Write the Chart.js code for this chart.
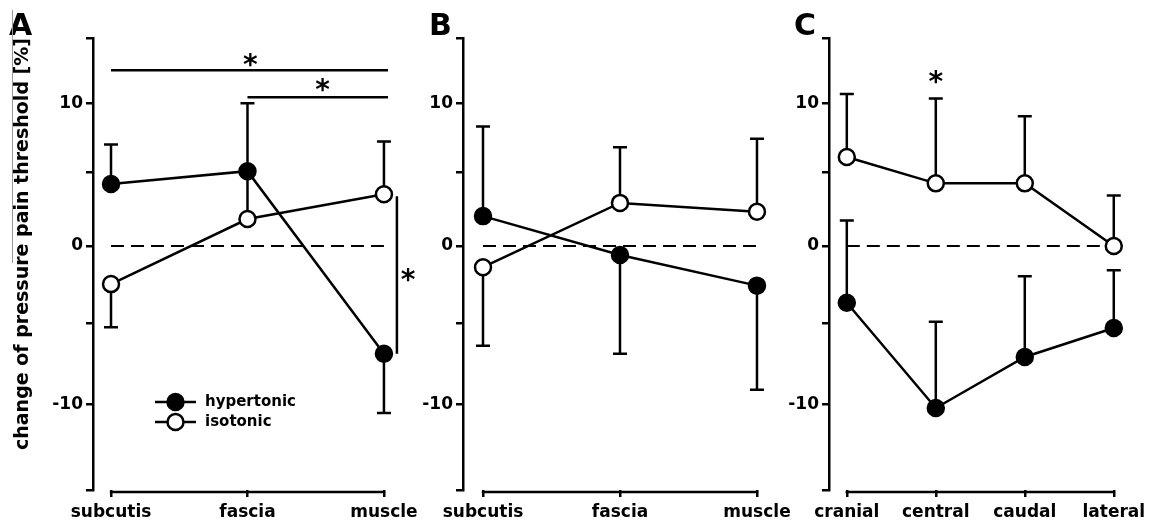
<!DOCTYPE html>
<html>
<head>
<meta charset="utf-8">
<script src="https://cdn.jsdelivr.net/npm/chart.js@4.4.1/dist/chart.umd.min.js"></script>
<style>
body{margin:0;background:#fff;width:1151px;height:530px;position:relative;overflow:hidden}
canvas{position:absolute;left:0;top:0}
</style>
</head>
<body>
<canvas id="cA" width="1151" height="530"></canvas>
<canvas id="cB" width="1151" height="530"></canvas>
<canvas id="cC" width="1151" height="530"></canvas>
<script>
var catsAB = ['subcutis', 'fascia', 'muscle']
var catsC = ['cranial', 'central', 'caudal', 'lateral']
var seriesNames = ['hypertonic', 'isotonic']
var yTickLabels = [-10, 0, 10]

// means
var hyperA = [4.2, 5.1, -6.9]
var isoA = [-2.5, 1.8, 3.5]
var hyperB = [2.0, -0.6, -2.6]
var isoB = [-1.4, 2.9, 2.3]
var hyperC = [-3.7, -10.2, -7.1, -5.3]
var isoC = [6.1, 4.25, 4.25, 0]

// one sided error bars, the sign says which way the bar points
var hyperAsd = [2.8, 4.9, -3.6]
var isoAsd = [-2.75, 3.2, 3.7]
var hyperBsd = [6.3, -6.3, -6.5]
var isoBsd = [-5.0, 3.9, 5.1]
var hyperCsd = [5.4, 5.3, 5.1, 3.7]
var isoCsd = [4.6, 6.1, 4.8, 3.4]

var FONT = "'DejaVu Sans', sans-serif"
var LW = 2.5

// the scanned y axis is not quite linear, gaps get wider towards the bottom
var WARP = 0.16
class WarpedScale extends Chart.LinearScale {
    getPixelForValue(value){
        if(value === null || value === undefined || isNaN(value)) return NaN
        var d = (value - this.min) / (this.max - this.min)
        return this.getPixelForDecimal(d + WARP * d * (1 - d))
    }
    getValueForPixel(pixel){
        var D = this.getDecimalForPixel(pixel)
        var d = ((1 + WARP) - Math.sqrt((1 + WARP) * (1 + WARP) - 4 * WARP * D)) / (2 * WARP)
        return this.min + d * (this.max - this.min)
    }
}
WarpedScale.id = 'warped'
WarpedScale.defaults = Chart.LinearScale.defaults
Chart.register(WarpedScale)

var errorBars = {
    id: 'errorBars',
    beforeDatasetsDraw(chart){
        var ctx = chart.ctx, xs = chart.scales.x, ys = chart.scales.y
        ctx.save()
        ctx.strokeStyle = '#000'
        ctx.lineWidth = LW
        chart.data.datasets.forEach(function(ds){
            if(!ds.sd) return
            ds.data.forEach(function(p, i){
                var px = xs.getPixelForValue(p.x)
                var y0 = ys.getPixelForValue(p.y)
                var y1 = ys.getPixelForValue(p.y + ds.sd[i])
                ctx.beginPath()
                ctx.moveTo(px, y0); ctx.lineTo(px, y1)
                ctx.moveTo(px - 7, y1); ctx.lineTo(px + 7, y1)
                ctx.stroke()
            })
        })
        // x axis line only spans the categories
        var n = chart.data.datasets[0].data.length
        var yb = chart.chartArea.bottom + 2
        ctx.beginPath()
        ctx.moveTo(xs.getPixelForValue(0) - 1.2, yb)
        ctx.lineTo(xs.getPixelForValue(n - 1) + 1.2, yb)
        ctx.stroke()
        ctx.restore()
    }
}

function star(ctx, x, y){
    ctx.save()
    ctx.font = 'bold 28px ' + FONT
    ctx.fillStyle = '#000'
    ctx.textAlign = 'center'
    ctx.textBaseline = 'alphabetic'
    var m = ctx.measureText('*')
    ctx.fillText('*', x, y + (m.actualBoundingBoxAscent - m.actualBoundingBoxDescent) / 2)
    ctx.restore()
}

function letter(ctx, t, x){
    ctx.save()
    ctx.font = 'bold 30px ' + FONT
    ctx.fillStyle = '#000'
    ctx.textBaseline = 'alphabetic'
    ctx.fillText(t, x, 35)
    ctx.restore()
}

var notesA = {
    id: 'notesA',
    afterDraw(chart){
        var ctx = chart.ctx, xs = chart.scales.x, ys = chart.scales.y
        letter(ctx, 'A', 9)
        ctx.save()
        ctx.strokeStyle = '#999'
        ctx.lineWidth = 1
        ctx.beginPath(); ctx.moveTo(12.5, 10); ctx.lineTo(12.5, 263); ctx.stroke()
        ctx.strokeStyle = '#000'
        ctx.lineWidth = LW
        // significance brackets
        var h1 = ys.getPixelForValue(12.5), h2 = ys.getPixelForValue(10.45)
        ctx.beginPath()
        ctx.moveTo(xs.getPixelForValue(0), h1); ctx.lineTo(xs.getPixelForValue(2.03), h1)
        ctx.moveTo(xs.getPixelForValue(1), h2); ctx.lineTo(xs.getPixelForValue(2.03), h2)
        var vx = xs.getPixelForValue(2.095)
        ctx.moveTo(vx, ys.getPixelForValue(3.35)); ctx.lineTo(vx, ys.getPixelForValue(-6.9))
        ctx.stroke()
        star(ctx, xs.getPixelForValue(1.02), ys.getPixelForValue(13.3))
        star(ctx, xs.getPixelForValue(1.55), ys.getPixelForValue(11.4))
        star(ctx, xs.getPixelForValue(2.176), ys.getPixelForValue(-1.9))
        // legend
        var rows = [402, 422]
        chart.data.datasets.slice(0, 2).forEach(function(ds, i){
            var y = rows[i]
            ctx.strokeStyle = ds.borderColor
            ctx.lineWidth = LW
            ctx.beginPath(); ctx.moveTo(155, y); ctx.lineTo(196, y); ctx.stroke()
            ctx.beginPath(); ctx.arc(175.5, y, 8, 0, Math.PI * 2)
            ctx.fillStyle = ds.pointBackgroundColor
            ctx.fill(); ctx.stroke()
            ctx.fillStyle = '#000'
            ctx.font = 'bold 15px ' + FONT
            ctx.textBaseline = 'middle'
            ctx.fillText(ds.label, 205, y)
        })
        ctx.restore()
    }
}
var notesB = {
    id: 'notesB',
    afterDraw(chart){ letter(chart.ctx, 'B', 429) }
}
var notesC = {
    id: 'notesC',
    afterDraw(chart){
        letter(chart.ctx, 'C', 794)
        star(chart.ctx, chart.scales.x.getPixelForValue(1), chart.scales.y.getPixelForValue(12.0))
    }
}

function makePanel(cfg){
    var n = cfg.cats.length
    function pts(vals){ return vals.map(function(v, i){ return {x: i, y: v} }) }
    var tickFont = {family: FONT, size: 17, weight: 'bold'}
    return new Chart(document.getElementById(cfg.id), {
        type: 'line',
        data: {
            datasets: [
                {label: seriesNames[0], data: pts(cfg.hyper), sd: cfg.hyperSd, borderColor: '#000', borderWidth: LW,
                 pointRadius: 8, pointBackgroundColor: '#000', pointBorderColor: '#000', pointBorderWidth: LW, tension: 0, order: 1},
                {label: seriesNames[1], data: pts(cfg.iso), sd: cfg.isoSd, borderColor: '#000', borderWidth: LW,
                 pointRadius: 8, pointBackgroundColor: '#fff', pointBorderColor: '#000', pointBorderWidth: LW, tension: 0, order: 2},
                {label: 'zero', data: [{x: 0, y: 0}, {x: n - 1, y: 0}], borderColor: '#000', borderWidth: 2,
                 borderDash: [13, 7], pointRadius: 0, order: 3}
            ]
        },
        options: {
            responsive: false,
            animation: false,
            events: [],
            layout: {autoPadding: false, padding: {left: cfg.left, right: 1151 - cfg.right, top: 38, bottom: 0}},
            plugins: {legend: {display: false}, tooltip: {enabled: false}},
            scales: {
                x: {
                    type: 'linear', min: cfg.xmin, max: cfg.xmax,
                    afterBuildTicks: function(s){ s.ticks = cfg.cats.map(function(c, i){ return {value: i} }) },
                    afterFit: function(s){ s.height = 40 },
                    ticks: {callback: function(v){ return cfg.cats[v] }, font: tickFont, color: '#000', padding: 5, maxRotation: 0, autoSkip: false},
                    grid: {drawOnChartArea: false, drawTicks: true, tickLength: 7, color: '#000', lineWidth: LW},
                    border: {display: false}
                },
                y: {
                    type: 'warped', min: -15, max: 15,
                    afterFit: function(s){ s.width = cfg.yWidth },
                    ticks: {stepSize: 5, callback: function(v){ return yTickLabels.indexOf(v) >= 0 ? String(v) : '' }, font: tickFont, color: '#000', padding: 3},
                    grid: {drawOnChartArea: false, drawTicks: true, tickLength: 7, color: '#000', lineWidth: LW},
                    border: {display: true, color: '#000', width: LW},
                    title: {display: !!cfg.title, text: cfg.title || '', align: 'end', color: '#000',
                            font: {family: FONT, size: 19, weight: 'bold'}, padding: {top: 12, bottom: 0}}
                }
            }
        },
        plugins: [errorBars, cfg.notes]
    })
}

makePanel({id: 'cA', cats: catsAB, hyper: hyperA, iso: isoA, hyperSd: hyperAsd, isoSd: isoAsd,
    left: 0, yWidth: 93, right: 398, xmin: -0.132, xmax: 2.103, notes: notesA,
    title: 'change of pressure pain threshold [%]'})
makePanel({id: 'cB', cats: catsAB, hyper: hyperB, iso: isoB, hyperSd: hyperBsd, isoSd: isoBsd,
    left: 405, yWidth: 58, right: 770, xmin: -0.146, xmax: 2.095, notes: notesB})
makePanel({id: 'cC', cats: catsC, hyper: hyperC, iso: isoC, hyperSd: hyperCsd, isoSd: isoCsd,
    left: 775, yWidth: 54, right: 1130, xmin: -0.2, xmax: 3.144, notes: notesC})
</script>
</body>
</html>
